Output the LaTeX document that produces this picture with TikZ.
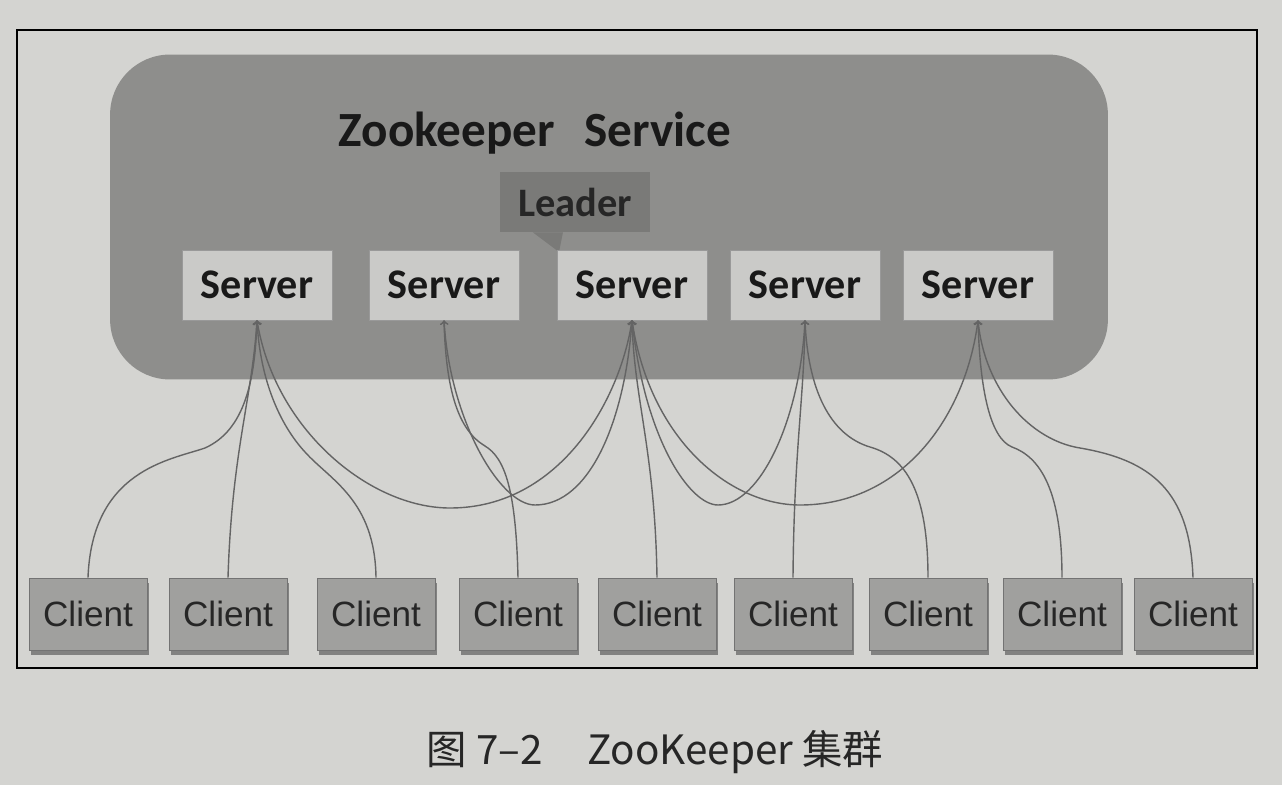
\documentclass[tikz,border=0pt]{standalone}
\usepackage{fontspec}
\setmainfont{Carlito}
\newfontfamily\clientfont{Liberation Sans}
\newfontfamily\cjk{Noto Sans CJK SC}
\usetikzlibrary{calc, shadows}

\definecolor{pagegray}{RGB}{212,212,209}
\definecolor{servicegray}{RGB}{142,142,140}
\definecolor{servergray}{RGB}{202,202,200}
\definecolor{clientgray}{RGB}{160,160,158}
\definecolor{leadergray}{RGB}{122,122,120}
\definecolor{linegray}{RGB}{100,100,100}

\begin{document}
\begin{tikzpicture}[x=0.02cm, y=-0.02cm,
    servicebox/.style={fill=servicegray, rounded corners=1.2cm, minimum width=19.96cm, minimum height=6.5cm},
    server/.style={draw=black!40, fill=servergray, minimum width=3cm, minimum height=1.4cm, text=black!90, font=\fontsize{24}{28}\selectfont\bfseries},
    client/.style={draw=black!55, fill=clientgray, minimum width=2.36cm, minimum height=1.44cm, text=black!85, font=\clientfont\fontsize{20}{24}\selectfont, drop shadow={shadow xshift=1pt, shadow yshift=-3pt, fill=black!70, opacity=0.6}},
    leader/.style={fill=leadergray, minimum width=3cm, minimum height=1.2cm, text=black!85, font=\fontsize{23}{26}\selectfont\bfseries},
    link/.style={draw=linegray, line width=0.8pt, ->},
    leaderlink/.style={draw=linegray, line width=0.8pt, <->}]
  \fill[pagegray] (0,0) rectangle (1282,785);
  \useasboundingbox (0,0) rectangle (1282,785);
  \draw[line width=1.1pt] (17,30) rectangle (1257,668);
  \node[servicebox] (service) at (609,217) {};
  \node[font=\fontsize{28}{32}\selectfont\bfseries, text=black!90] (title) at (535,133) {Zookeeper\hspace{0.6em}Service};
  \foreach \x [count=\i] in {257,444,632,805,978}
    \coordinate (p\i) at (\x,285);
  \node[leader] (lead) at (575,202) {Leader};
  \fill[leadergray] ($(lead.south west)!0.22!(lead.south east)$) -- ($(p3)+(-73,-33)$) -- ($(lead.south west)!0.42!(lead.south east)$) -- cycle;
  \foreach \i in {1,...,5}
    \node[server] (s\i) at (p\i) {Server};
  \foreach \x [count=\i] in {88,228,376,518,657,793,928,1062,1193}
    \node[client] (c\i) at (\x,614) {Client};
  % clients to servers
  \draw[link] (c1.north) .. controls (92,470) and (170,460) .. (205,448) .. controls (245,430) and (255,380) .. (s1.south);
  \draw[link] (c2.north) .. controls (232,450) and (252,400) .. (s1.south);
  \draw[link] (c3.north) .. controls (375,500) and (330,480) .. (305,452) .. controls (280,425) and (260,380) .. (s1.south);
  \draw[link] (c4.north) .. controls (516,490) and (505,458) .. (485,446) .. controls (458,430) and (446,390) .. (s2.south);
  \draw[link] (c5.north) .. controls (655,450) and (634,400) .. (s3.south);
  \draw[link] (c6.north) .. controls (794,450) and (804,400) .. (s4.south);
  \draw[link] (c7.north) .. controls (928,490) and (905,457) .. (870,447) .. controls (830,435) and (808,390) .. (s4.south);
  \draw[link] (c8.north) .. controls (1062,490) and (1040,457) .. (1012,447) .. controls (990,438) and (980,390) .. (s5.south);
  \draw[link] (c9.north) .. controls (1190,490) and (1150,460) .. (1080,448) .. controls (1030,440) and (985,390) .. (s5.south);
  % servers to leader
  \draw[leaderlink] (s1.south) .. controls (275,430) and (370,508) .. (450,508) .. controls (560,508) and (620,400) .. (s3.south);
  \draw[leaderlink] (s2.south) .. controls (450,420) and (500,505) .. (535,505) .. controls (590,505) and (625,420) .. (s3.south);
  \draw[leaderlink] (s3.south) .. controls (645,440) and (690,505) .. (718,505) .. controls (760,505) and (800,420) .. (s4.south);
  \draw[leaderlink] (s3.south) .. controls (650,440) and (730,505) .. (800,505) .. controls (900,505) and (965,420) .. (s5.south);
  \node[font=\cjk\fontsize{23}{26}\selectfont, text=black!85] (caption) at (655,752) {图 7–2\hspace{1.1em}ZooKeeper 集群};
\end{tikzpicture}
\end{document}
